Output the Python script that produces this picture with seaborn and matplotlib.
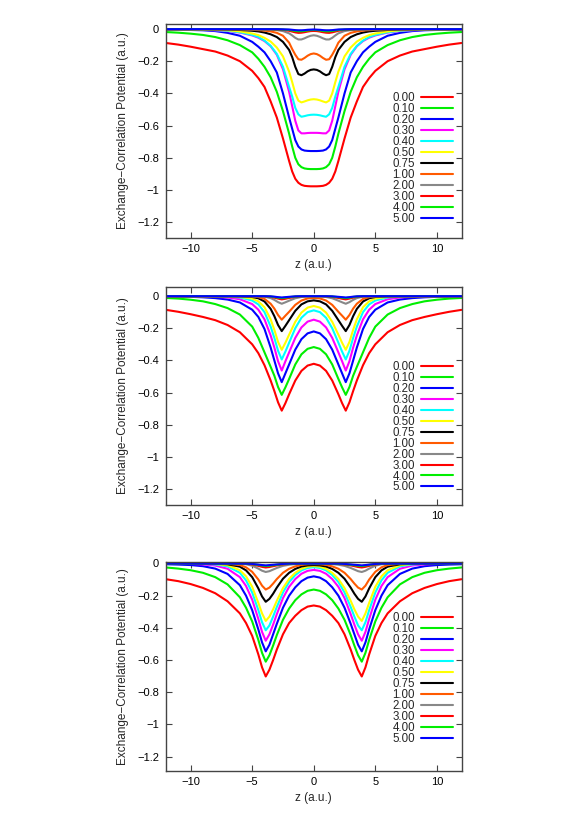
import numpy as np
import pandas as pd
import matplotlib
matplotlib.use("Agg")
import matplotlib.pyplot as plt
import seaborn as sns
from matplotlib.lines import Line2D

# ---------------- data ----------------
labels = ["0.00", "0.10", "0.20", "0.30", "0.40", "0.50", "0.75",
          "1.00", "2.00", "3.00", "4.00", "5.00"]
colors = ["#ff0000", "#00ee00", "#0000ff", "#ff00ff", "#00ffff", "#ffff00",
          "#000000", "#ff5a00", "#888888", "#ff0000", "#00ee00", "#0000ff"]

xticks = [-10, -5, 0, 5, 10]
xtick_labels = ["\u221210", "\u22125", "0", "5", "10"]
yticks = [0, -0.2, -0.4, -0.6, -0.8, -1.0, -1.2]
ytick_labels = ["0", "\u22120.2", "\u22120.4", "\u22120.6", "\u22120.8", "\u22121", "\u22121.2"]

# panel 1 (half curves, z >= 0; curves are symmetric in z)
z_top = [0, 0.25, 0.5, 0.75, 1, 1.25, 1.5, 1.75, 2, 2.5, 3, 3.5, 4, 4.5, 5, 6, 7, 8, 9, 10, 11, 12]
top_000 = [-0.977, -0.977, -0.976, -0.974, -0.968, -0.955, -0.93, -0.885, -0.82, -0.68, -0.55, -0.45, -0.36, -0.305, -0.26, -0.2, -0.165, -0.14, -0.125, -0.11, -0.097, -0.087]
top_010 = [-0.870, -0.870, -0.869, -0.866, -0.858, -0.84, -0.80, -0.73, -0.65, -0.51, -0.39, -0.30, -0.235, -0.185, -0.145, -0.10, -0.07, -0.05, -0.037, -0.029, -0.023, -0.019]
top_020 = [-0.758, -0.758, -0.757, -0.755, -0.748, -0.73, -0.69, -0.62, -0.55, -0.40, -0.27, -0.20, -0.145, -0.11, -0.08, -0.042, -0.024, -0.013, -0.008, -0.006, -0.005, -0.004]
top_030 = [-0.645, -0.645, -0.646, -0.648, -0.648, -0.63, -0.57, -0.48, -0.39, -0.25, -0.16, -0.107, -0.075, -0.054, -0.04, -0.022, -0.013, -0.008, -0.005, -0.004, -0.003, -0.002]
top_040 = [-0.532, -0.533, -0.536, -0.541, -0.545, -0.53, -0.49, -0.42, -0.36, -0.235, -0.155, -0.105, -0.072, -0.05, -0.037, -0.02, -0.011, -0.007, -0.004, -0.003, -0.002, -0.002]
top_050 = [-0.436, -0.438, -0.443, -0.45, -0.456, -0.445, -0.40, -0.33, -0.265, -0.17, -0.115, -0.078, -0.055, -0.038, -0.028, -0.015, -0.008, -0.005, -0.003, -0.002, -0.002, -0.001]
top_075 = [-0.251, -0.254, -0.263, -0.277, -0.287, -0.28, -0.235, -0.175, -0.13, -0.08, -0.05, -0.033, -0.022, -0.015, -0.011, -0.006, -0.003, -0.002, -0.001, -0.001, -0.001, -0.001]
top_100 = [-0.152, -0.156, -0.166, -0.18, -0.191, -0.188, -0.16, -0.125, -0.085, -0.042, -0.024, -0.015, -0.01, -0.007, -0.005, -0.003, -0.002, -0.001, -0.001, -0.001, -0.001, -0.001]
top_200 = [-0.039, -0.042, -0.049, -0.058, -0.065, -0.065, -0.055, -0.04, -0.027, -0.013, -0.007, -0.004, -0.003, -0.002, -0.002, -0.001, -0.001, -0.001, -0.001, -0.001, -0.001, -0.001]
top_300 = [-0.012, -0.013, -0.016, -0.02, -0.023, -0.024, -0.021, -0.016, -0.011, -0.005, -0.003, -0.002, -0.001, -0.001, -0.001, -0.001, -0.001, -0.001, -0.001, -0.001, -0.001, -0.001]
top_400 = [-0.006, -0.007, -0.009, -0.012, -0.014, -0.014, -0.012, -0.009, -0.006, -0.003, -0.002, -0.001, -0.001, -0.001, -0.001, -0.001, -0.001, -0.001, -0.001, -0.001, -0.001, -0.001]
top_500 = [-0.003, -0.004, -0.005, -0.007, -0.008, -0.008, -0.007, -0.005, -0.003, -0.002, -0.001, -0.001, -0.001, -0.001, -0.001, -0.001, -0.001, -0.001, -0.001, -0.001, -0.001, -0.001]

# panel 2
z_mid = [0, 0.5, 1, 1.5, 2, 2.3, 2.6, 2.9, 3.2, 3.5, 4, 4.5, 5, 6, 7, 8, 9, 10, 11, 12]
mid_000 = [-0.421, -0.432, -0.465, -0.525, -0.61, -0.665, -0.712, -0.66, -0.59, -0.525, -0.43, -0.355, -0.3, -0.225, -0.18, -0.15, -0.13, -0.113, -0.098, -0.086]
mid_010 = [-0.317, -0.328, -0.362, -0.425, -0.515, -0.567, -0.614, -0.565, -0.495, -0.44, -0.35, -0.26, -0.19, -0.115, -0.075, -0.05, -0.033, -0.023, -0.016, -0.012]
mid_020 = [-0.22, -0.232, -0.268, -0.333, -0.425, -0.48, -0.535, -0.48, -0.4, -0.32, -0.205, -0.13, -0.085, -0.04, -0.022, -0.013, -0.008, -0.005, -0.004, -0.003]
mid_030 = [-0.147, -0.159, -0.195, -0.26, -0.35, -0.405, -0.463, -0.405, -0.32, -0.245, -0.145, -0.085, -0.05, -0.02, -0.009, -0.005, -0.003, -0.002, -0.001, -0.001]
mid_040 = [-0.089, -0.1, -0.135, -0.2, -0.29, -0.345, -0.394, -0.34, -0.26, -0.19, -0.1, -0.052, -0.028, -0.009, -0.004, -0.002, -0.001, -0.001, -0.001, -0.001]
mid_050 = [-0.062, -0.072, -0.103, -0.16, -0.24, -0.29, -0.334, -0.285, -0.21, -0.145, -0.07, -0.033, -0.016, -0.005, -0.002, -0.001, -0.001, -0.001, -0.001, -0.001]
mid_075 = [-0.027, -0.033, -0.052, -0.092, -0.15, -0.185, -0.218, -0.18, -0.125, -0.08, -0.034, -0.014, -0.006, -0.002, -0.001, -0.001, -0.001, -0.001, -0.001, -0.001]
mid_100 = [-0.012, -0.015, -0.028, -0.055, -0.098, -0.122, -0.147, -0.118, -0.078, -0.048, -0.018, -0.007, -0.003, -0.001, -0.001, -0.001, -0.001, -0.001, -0.001, -0.001]
mid_200 = [-0.002, -0.003, -0.006, -0.014, -0.029, -0.039, -0.048, -0.038, -0.024, -0.013, -0.004, -0.002, -0.001, -0.001, -0.001, -0.001, -0.001, -0.001, -0.001, -0.001]
mid_300 = [-0.001, -0.001, -0.002, -0.005, -0.012, -0.017, -0.021, -0.016, -0.01, -0.005, -0.002, -0.001, -0.001, -0.001, -0.001, -0.001, -0.001, -0.001, -0.001, -0.001]
mid_400 = [-0.001, -0.001, -0.001, -0.003, -0.007, -0.01, -0.013, -0.01, -0.006, -0.003, -0.001, -0.001, -0.001, -0.001, -0.001, -0.001, -0.001, -0.001, -0.001, -0.001]
mid_500 = [-0.001, -0.001, -0.001, -0.002, -0.005, -0.007, -0.009, -0.007, -0.004, -0.002, -0.001, -0.001, -0.001, -0.001, -0.001, -0.001, -0.001, -0.001, -0.001, -0.001]

# panel 3
z_bot = [0, 0.5, 1, 1.5, 2, 2.5, 3, 3.3, 3.6, 3.9, 4.2, 4.5, 5, 5.5, 6, 7, 8, 9, 10, 11, 12]
bot_000 = [-0.261, -0.268, -0.29, -0.325, -0.37, -0.44, -0.535, -0.6, -0.66, -0.702, -0.645, -0.565, -0.45, -0.37, -0.31, -0.235, -0.185, -0.152, -0.128, -0.11, -0.098]
bot_010 = [-0.162, -0.17, -0.192, -0.228, -0.28, -0.35, -0.445, -0.51, -0.57, -0.61, -0.555, -0.475, -0.36, -0.275, -0.21, -0.13, -0.085, -0.058, -0.042, -0.032, -0.025]
bot_020 = [-0.08, -0.088, -0.11, -0.148, -0.2, -0.275, -0.375, -0.44, -0.505, -0.546, -0.49, -0.41, -0.29, -0.2, -0.135, -0.065, -0.032, -0.017, -0.01, -0.007, -0.005]
bot_030 = [-0.04, -0.046, -0.064, -0.097, -0.145, -0.215, -0.315, -0.38, -0.44, -0.48, -0.425, -0.345, -0.225, -0.14, -0.085, -0.033, -0.013, -0.006, -0.003, -0.002, -0.001]
bot_040 = [-0.023, -0.028, -0.043, -0.072, -0.115, -0.18, -0.27, -0.33, -0.385, -0.415, -0.365, -0.29, -0.18, -0.105, -0.058, -0.018, -0.006, -0.002, -0.001, -0.001, -0.001]
bot_050 = [-0.016, -0.02, -0.033, -0.058, -0.096, -0.153, -0.232, -0.285, -0.33, -0.357, -0.31, -0.245, -0.145, -0.08, -0.042, -0.011, -0.003, -0.001, -0.001, -0.001, -0.001]
bot_075 = [-0.01, -0.012, -0.019, -0.034, -0.058, -0.095, -0.15, -0.188, -0.22, -0.238, -0.205, -0.155, -0.085, -0.043, -0.02, -0.005, -0.002, -0.001, -0.001, -0.001, -0.001]
bot_100 = [-0.004, -0.005, -0.009, -0.018, -0.033, -0.058, -0.097, -0.125, -0.15, -0.162, -0.138, -0.1, -0.052, -0.024, -0.01, -0.002, -0.001, -0.001, -0.001, -0.001, -0.001]
bot_200 = [-0.001, -0.001, -0.002, -0.004, -0.008, -0.015, -0.028, -0.038, -0.048, -0.053, -0.045, -0.032, -0.014, -0.005, -0.002, -0.001, -0.001, -0.001, -0.001, -0.001, -0.001]
bot_300 = [-0.001, -0.001, -0.001, -0.002, -0.003, -0.006, -0.012, -0.017, -0.022, -0.025, -0.021, -0.015, -0.006, -0.002, -0.001, -0.001, -0.001, -0.001, -0.001, -0.001, -0.001]
bot_400 = [-0.001, -0.001, -0.001, -0.001, -0.002, -0.004, -0.008, -0.011, -0.014, -0.016, -0.013, -0.009, -0.004, -0.001, -0.001, -0.001, -0.001, -0.001, -0.001, -0.001, -0.001]
bot_500 = [-0.001, -0.001, -0.001, -0.001, -0.001, -0.003, -0.006, -0.008, -0.01, -0.012, -0.01, -0.007, -0.003, -0.001, -0.001, -0.001, -0.001, -0.001, -0.001, -0.001, -0.001]

panels = [
    (z_top, [top_000, top_010, top_020, top_030, top_040, top_050, top_075,
             top_100, top_200, top_300, top_400, top_500]),
    (z_mid, [mid_000, mid_010, mid_020, mid_030, mid_040, mid_050, mid_075,
             mid_100, mid_200, mid_300, mid_400, mid_500]),
    (z_bot, [bot_000, bot_010, bot_020, bot_030, bot_040, bot_050, bot_075,
             bot_100, bot_200, bot_300, bot_400, bot_500]),
]


def mirrored(zh, vh):
    zh = np.asarray(zh, float)
    vh = np.asarray(vh, float)
    z = np.concatenate([-zh[:0:-1], zh])
    v = np.concatenate([vh[:0:-1], vh])
    return z, v


# ---------------- style ----------------
sns.set_style("ticks")
plt.rcParams["font.family"] = ["Liberation Sans", "DejaVu Sans"]
plt.rcParams["axes.unicode_minus"] = True

W, H = 581, 823
fig = plt.figure(figsize=(W / 100, H / 100), dpi=100)
fig.patch.set_facecolor("white")

# pixel frame boxes (left, top, right, bottom) and y-limits
frames = [(166, 24, 461.5, 238), (166, 287, 461.5, 505), (166, 562, 461.5, 771)]
ylims = [(-1.298, 0.031), (-1.298, 0.056), (-1.289, 0.009)]
legend_centers = [(0.868, 0.372), (0.868, 0.357), (0.868, 0.4415)]

edge = "#444444"
for (zh, curves), (l, t, r, b), yl, lc in zip(panels, frames, ylims, legend_centers):
    ax = fig.add_axes([l / W, 1 - b / H, (r - l) / W, (b - t) / H])
    rows = []
    for lab, vh in zip(labels, curves):
        z, v = mirrored(zh, vh)
        rows.append(pd.DataFrame({"z": z, "v": v, "label": lab}))
    df = pd.concat(rows, ignore_index=True)
    sns.lineplot(data=df, x="z", y="v", hue="label", hue_order=labels,
                 palette=colors, estimator=None, sort=False, legend=False,
                 linewidth=1.5, ax=ax)
    ax.set_xlim(-12, 12)
    ax.set_ylim(*yl)
    ax.set_xticks(xticks)
    ax.set_xticklabels(xtick_labels)
    ax.set_yticks(yticks)
    ax.set_yticklabels(ytick_labels)
    for s in ax.spines.values():
        s.set_visible(True)
        s.set_color(edge)
        s.set_linewidth(1.0)
    ax.tick_params(direction="in", length=4, width=0.8, color=edge,
                   top=True, right=True, labelsize=8, colors="black")
    ax.tick_params(axis="y", pad=5)
    ax.tick_params(axis="x", pad=4)
    ax.set_xlabel("z (a.u.)", fontsize=8.5, labelpad=4)
    ax.set_ylabel("Exchange\u2212Correlation Potential (a.u.)", fontsize=8.5, labelpad=6)
    handles = [Line2D([], [], color=c, lw=1.5) for c in colors]
    ax.legend(handles, labels, loc="center", bbox_to_anchor=lc,
              frameon=False, markerfirst=False, fontsize=8.3,
              handlelength=2.7, handletextpad=0.55, labelspacing=-0.09,
              borderpad=0, borderaxespad=0)

fig.savefig("out.png", dpi=100, facecolor="white")
